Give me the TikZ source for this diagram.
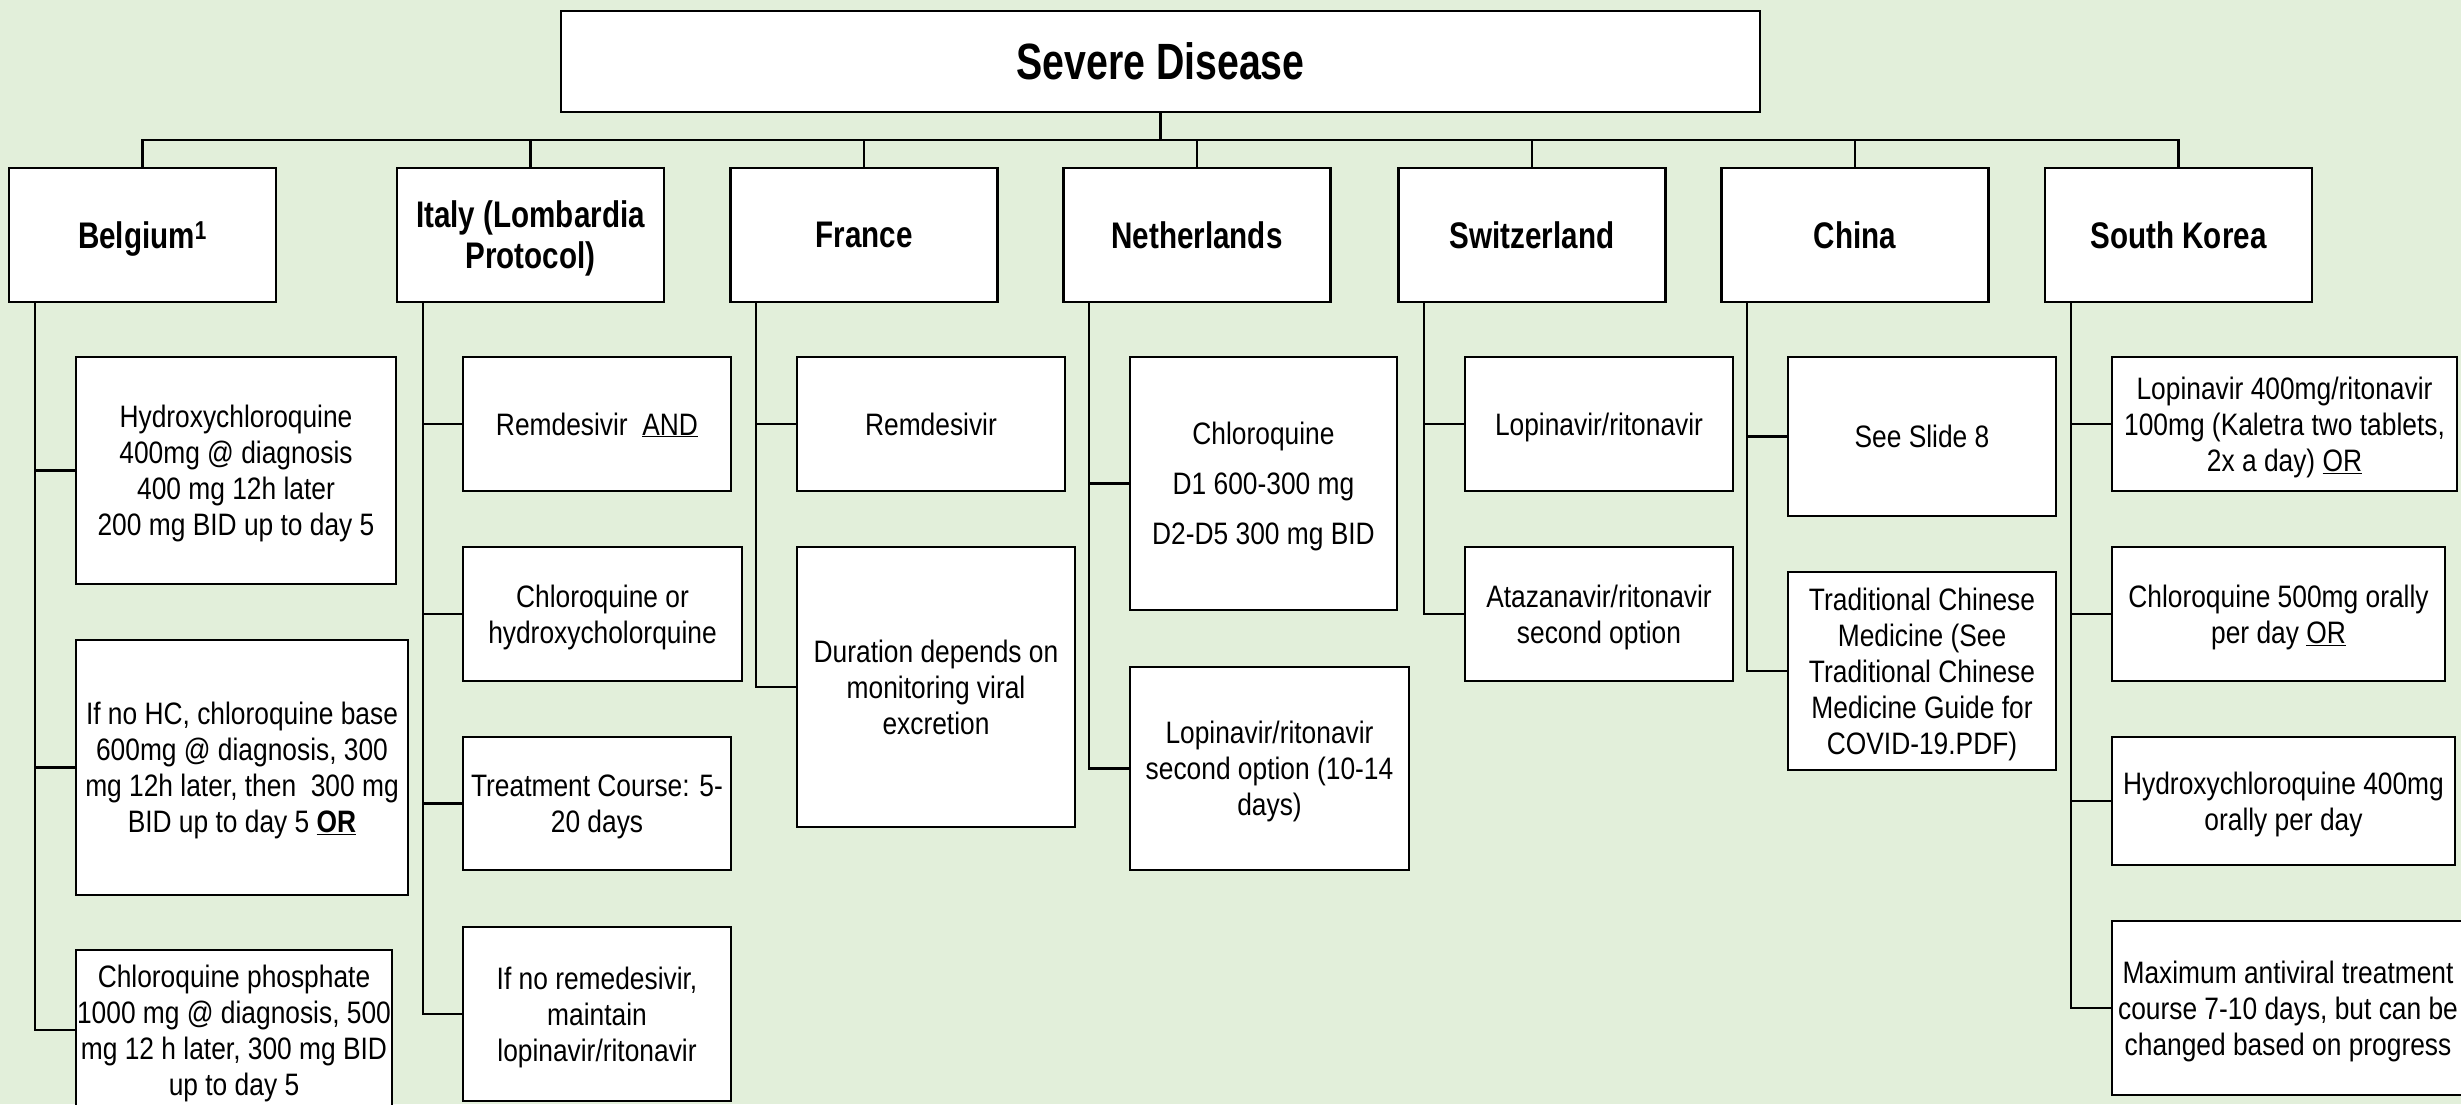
\documentclass[tikz,border=0pt]{standalone}
\usepackage{fontspec}
\setmainfont{Liberation Sans}[FakeStretch=0.85]
\newfontfamily\headfont{Liberation Sans}[FakeStretch=0.80]
\newfontfamily\titlefont{Liberation Sans}[FakeStretch=0.77]
\usepackage{tikz}
\definecolor{sheet}{HTML}{E2EFDA}

\tikzset{
    every box/.style={draw, fill=white, line width=2.7pt, align=center, inner sep=0pt, text depth=0pt},
    title box/.style={every box, font=\titlefont\bfseries\fontsize{51pt}{58pt}\selectfont,
        minimum width=1199pt, minimum height=101pt},
    country/.style={every box, font=\headfont\bfseries\fontsize{37pt}{41pt}\selectfont,
        minimum width=267pt, minimum height=134pt},
    item/.style 2 args={every box, font=\fontsize{31pt}{36pt}\selectfont,
        minimum width=#1pt, minimum height=#2pt},
    link/.style={line width=2.3pt},
}

\begin{document}
\begin{tikzpicture}[x=1pt, y=-1pt]

            % sheet
            \fill[sheet] (0,0) rectangle (2461,1104);
            \useasboundingbox (0,0) rectangle (2461,1104);

            % top box
            \node [title box] (severe) at (1160.5,61.5) {Severe Disease};
            \coordinate (bus) at (1160.5,140);

            % countries
            \foreach \m/\x/\l in {belgium/142.5/{Belgium\textsuperscript{1}},
                    italy/530.5/{Italy (Lombardia\\Protocol)}, france/864/France,
                    netherlands/1197/Netherlands, switzerland/1532/Switzerland,
                    china/1855/China, skorea/2178.5/South Korea}
                \node [country] (\m) at (\x,235) {\l};

            % belgium
            \node [item={320}{227}] (belgium-1) at (236,470.5)
                {Hydroxychloroquine\\400mg @ diagnosis\\400 mg 12h later\\200 mg BID up to day 5};
            \node [item={332}{255}] (belgium-2) at (242,767.5)
                {If no HC, chloroquine base\\600mg @ diagnosis, 300\\mg 12h later, then\ \ 300 mg\\BID up to day 5 \textbf{\underline{OR}}};
            \node [item={316}{160}] (belgium-3) at (234,1030)
                {Chloroquine phosphate\\1000 mg @ diagnosis, 500\\mg 12 h later, 300 mg BID\\up to day 5};

            % italy
            \node [item={268}{134}] (italy-1) at (597,424) {Remdesivir\ \ \underline{AND}};
            \node [item={279}{134}] (italy-2) at (602.5,614) {Chloroquine or\\hydroxycholorquine};
            \node [item={268}{133}] (italy-3) at (597,803.5) {Treatment Course: 5-\\20 days};
            \node [item={268}{174}] (italy-4) at (597,1014)
                {If no remedesivir,\\maintain\\lopinavir/ritonavir};

            % france
            \node [item={268}{134}] (france-1) at (931,424) {Remdesivir};
            \node [item={278}{280}] (france-2) at (936,687)
                {Duration depends on\\monitoring viral\\excretion};

            % netherlands
            \node [item={267}{253}, font=\fontsize{31pt}{50pt}\selectfont] (netherlands-1) at (1263.5,483.5)
                {Chloroquine\\D1 600-300 mg\\D2-D5 300 mg BID};
            \node [item={279}{203}] (netherlands-2) at (1269.5,768.5)
                {Lopinavir/ritonavir\\second option (10-14\\days)};

            % switzerland
            \node [item={268}{134}] (switzerland-1) at (1599,424) {Lopinavir/ritonavir};
            \node [item={268}{134}] (switzerland-2) at (1599,614) {Atazanavir/ritonavir\\second option};

            % china
            \node [item={268}{159}] (china-1) at (1922,436.5) {See Slide 8};
            \node [item={268}{198}] (china-2) at (1922,671)
                {Traditional Chinese\\Medicine (See\\Traditional Chinese\\Medicine Guide for\\COVID-19.PDF)};

            % south korea
            \node [item={345}{134}] (skorea-1) at (2284.5,424)
                {Lopinavir 400mg/ritonavir\\100mg (Kaletra two tablets,\\2x a day) \underline{OR}};
            \node [item={333}{134}] (skorea-2) at (2278.5,614) {Chloroquine 500mg orally\\per day \underline{OR}};
            \node [item={343}{128}] (skorea-3) at (2283.5,801) {Hydroxychloroquine 400mg\\orally per day};
            \node [item={352}{174}] (skorea-4) at (2288,1008)
                {Maximum antiviral treatment\\course 7-10 days, but can be\\changed based on progress};

            % lines from top box to countries
            \draw [link] (severe) -- (bus);
            \foreach \m in {belgium,italy,france,netherlands,switzerland,china,skorea}
                \draw [link] (bus) -| (\m);

            % lines from countries to items
            \foreach \m/\n in {belgium/3,italy/4,france/2,netherlands/2,switzerland/2,china/2,skorea/4}
                \foreach \i in {1,...,\n}
                    \draw [link] ([xshift=27pt]\m.south west) |- (\m-\i);

\end{tikzpicture}
\end{document}
